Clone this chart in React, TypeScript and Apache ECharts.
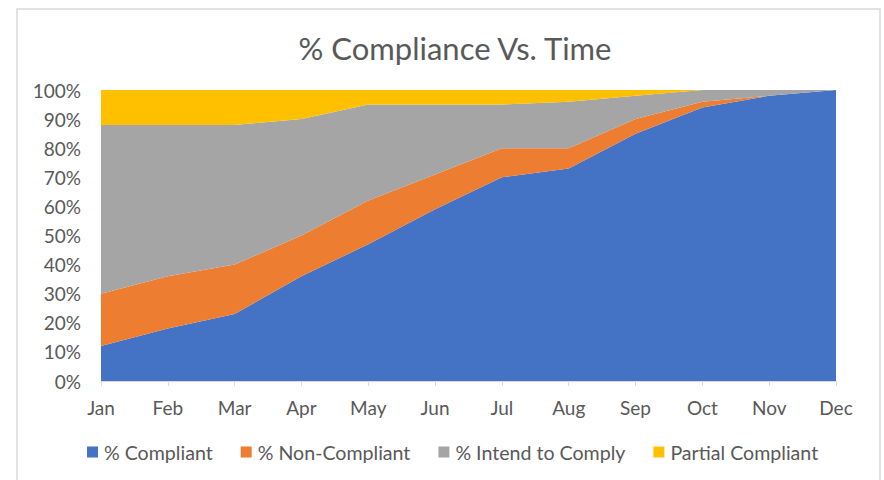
import React, { useEffect, useRef } from "react";
import * as echarts from "echarts";

const months = ["Jan", "Feb", "Mar", "Apr", "May", "Jun", "Jul", "Aug", "Sep", "Oct", "Nov", "Dec"];
const compliant = [12, 18, 23, 36, 47, 59, 70, 73, 85, 94, 98, 100];
const nonCompliant = [18, 18, 17, 14, 15, 12, 10, 7, 5, 2, 0, 0];
const intendToComply = [58, 52, 48, 40, 33, 24, 15, 16, 8, 4, 2, 0];
const partialCompliant = [12, 12, 12, 10, 5, 5, 5, 4, 2, 0, 0, 0];

const seriesNames = ["% Compliant", "% Non-Compliant", "% Intend to Comply", "Partial Compliant"];
const seriesColors = ["#4472C4", "#ED7D31", "#A5A5A5", "#FFC000"];
const FONT = "Lato";

export default function App() {
  const ref = useRef<HTMLDivElement>(null);
  useEffect(() => {
    if (!ref.current) return;
    const chart = echarts.init(ref.current, undefined, { renderer: "svg" });
    const dataSets = [compliant, nonCompliant, intendToComply, partialCompliant];
    chart.setOption({
      animation: false,
      backgroundColor: "#ffffff",
      textStyle: { fontFamily: FONT },
      title: {
        text: "% Compliance Vs. Time",
        left: 450,
        textAlign: "center",
        top: 27,
        textStyle: { fontFamily: FONT, fontSize: 31, fontWeight: "normal", color: "#595959" },
      },
      legend: {
        left: 87,
        top: 442,
        padding: 0,
        itemWidth: 11,
        itemHeight: 11,
        itemGap: 28,
        icon: "rect",
        data: seriesNames,
        textStyle: { fontFamily: FONT, fontSize: 19.6, color: "#595959", padding: [0, 0, 0, 1] },
      },
      graphic: [
        {
          type: "rect",
          shape: { x: 17, y: 9, width: 863, height: 480 },
          style: { fill: "none", stroke: "#D9D9D9", lineWidth: 1.5 },
          silent: true,
          z: 100,
        },
      ],
      grid: { left: 101, right: 48, top: 90, bottom: 99 },
      xAxis: {
        type: "category",
        data: months,
        boundaryGap: false,
        axisLine: { show: true, lineStyle: { color: "#D9D9D9", width: 1 } },
        axisTick: { show: true, length: 5, lineStyle: { color: "#D9D9D9" } },
        axisLabel: { color: "#595959", fontSize: 19, fontFamily: FONT, margin: 17 },
        splitLine: { show: false },
      },
      yAxis: {
        type: "value",
        min: 0,
        max: 100,
        interval: 10,
        axisLine: { show: false },
        axisTick: { show: false },
        axisLabel: { color: "#595959", fontSize: 19, fontFamily: FONT, margin: 20, formatter: "{value}%" },
        splitLine: { show: false },
      },
      series: dataSets.map((d, i) => ({
        name: seriesNames[i],
        type: "line",
        stack: "total",
        data: d,
        showSymbol: false,
        symbol: "none",
        lineStyle: { width: 0 },
        itemStyle: { color: seriesColors[i] },
        areaStyle: { color: seriesColors[i], opacity: 1 },
      })),
    });
    return () => chart.dispose();
  }, []);
  return (
    <div
      ref={ref}
      style={{ position: "fixed", left: 0, top: 0, width: 884, height: 480 }}
    />
  );
}
